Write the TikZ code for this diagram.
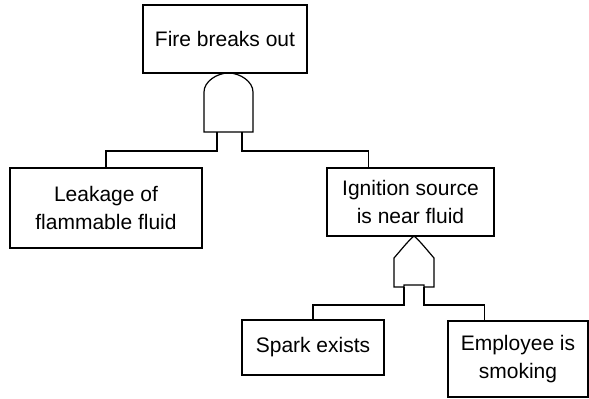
\documentclass[tikz,border=0pt]{standalone}
\usepackage{fontspec}
\setmainfont{Liberation Sans}
\usetikzlibrary{calc}

\begin{document}
\begin{tikzpicture}[x=0.5pt,y=-0.5pt,line width=0.6pt,
  evt/.style={shape=rectangle, draw, align=center, inner sep=0pt,
    font=\fontsize{10.5}{14}\selectfont}]
%[bounding box in pixels of the original]
\useasboundingbox (0,0) rectangle (589,398);

\path (225,39) node (fire) [evt, minimum width=82pt, minimum height=34pt] {Fire breaks out};
\path (106,208) node (leak) [evt, minimum width=96pt, minimum height=40pt] {Leakage of\\flammable fluid};
\path (410.5,202) node (ign) [evt, minimum width=83.5pt, minimum height=34pt] {Ignition source\\is near fluid};
\path (313,347.5) node (spark) [evt, minimum width=71pt, minimum height=27.5pt] {Spark exists};
\path (518,359) node (emp) [evt, minimum width=70pt, minimum height=38pt] {Employee is\\smoking};

% AND gate
\draw (204,132) -- (204,92) .. controls (204,81.5) and (217,73) .. (228.5,73)
  .. controls (240,73) and (253,81.5) .. (253,92) -- (253,132) -- cycle;
\coordinate (andL) at (217,132);
\coordinate (andR) at (242,132);
\draw (andL) -- ++(0,19) -| (leak.north);
\draw (andR) -- ++(0,19) -| ($(ign.north west)!0.25!(ign.north east)$);

% OR gate
\draw (394,287) -- (394,258) .. controls (401,250) and (408,241) .. (414,236)
  .. controls (420,241) and (427,250) .. (434,258) -- (434,287) -- (424,287)
  -- (424,285) -- (404,285) -- (404,287) -- cycle;
\coordinate (orL) at (404,287);
\coordinate (orR) at (424,287);
\draw (orL) -- ++(0,18) -| (spark.north);
\draw (orR) -- ++(0,18) -| ($(emp.north west)!0.26!(emp.north east)$);

\end{tikzpicture}
\end{document}
